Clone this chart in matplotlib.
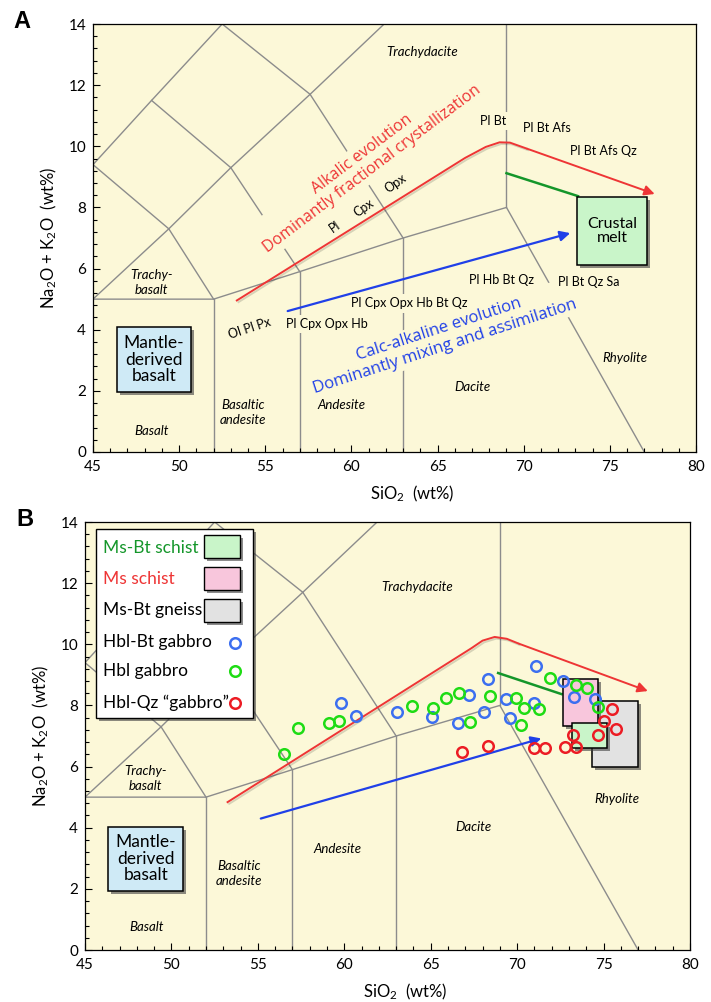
import matplotlib
matplotlib.use('Agg')
import matplotlib.pyplot as plt
import matplotlib.patheffects as pe
from matplotlib.patches import Rectangle

plt.rcParams['font.family'] = ['Lato', 'DejaVu Sans']
plt.rcParams['mathtext.fontset'] = 'custom'
plt.rcParams['mathtext.rm'] = 'Lato'
plt.rcParams['mathtext.it'] = 'Lato:italic'

bg = '#fcf8d8'
gray_line = '#8c8c8c'
red = '#ee3535'
blue = '#2040e8'
dkgreen = '#14962a'

# TAS field boundaries (SiO2, Na2O+K2O)
tas_lines = [
    [(45, 5), (52, 5), (57, 5.9), (63, 7), (69, 8), (77, 0)],
    [(52, 0), (52, 5)],
    [(57, 0), (57, 5.9)],
    [(63, 0), (63, 7)],
    [(69, 8), (69, 14)],
    [(45, 5), (49.4, 7.3), (53, 9.3), (57.6, 11.7), (61.9, 14)],
    [(49.4, 7.3), (52, 5)],
    [(53, 9.3), (57, 5.9)],
    [(57.6, 11.7), (63, 7)],
    [(45, 9.4), (49.4, 7.3)],
    [(45, 9.4), (48.4, 11.5), (52.5, 14)],
    [(48.4, 11.5), (53, 9.3)],
    [(52.5, 14), (57.6, 11.7)],
]

# rock names, panel A and panel B
rocks_a = [('Trachydacite', 64.1, 13.08), ('Trachy-\nbasalt', 48.4, 5.56), ('Basalt', 48.4, 0.69),
           ('Basaltic\nandesite', 53.7, 1.3), ('Andesite', 59.4, 1.55), ('Dacite', 67.05, 2.13),
           ('Rhyolite', 75.9, 3.07)]
rocks_b = [('Trachydacite', 64.2, 11.86), ('Trachy-\nbasalt', 48.5, 5.62), ('Basalt', 48.56, 0.76),
           ('Basaltic\nandesite', 53.9, 2.5), ('Andesite', 59.6, 3.3), ('Dacite', 67.45, 4.03),
           ('Rhyolite', 75.75, 4.93)]

# mineral assemblages along the trends (panel A)
minerals = ['Pl Bt', 'Pl Bt Afs', 'Pl Bt Afs Qz', 'Pl', 'Cpx', 'Opx', 'Ol Pl Px',
            'Pl Cpx Opx Hb', 'Pl Cpx Opx Hb Bt Qz', 'Pl Hb Bt Qz', 'Pl Bt Qz Sa']
minerals_x = [68.2, 71.35, 74.6, 59.05, 60.69, 62.53, 54.11, 58.56, 63.38, 68.72, 73.75]
minerals_y = [10.83, 10.6, 9.85, 7.37, 7.97, 8.79, 4.05, 4.19, 4.86, 5.63, 5.57]
minerals_rot = [0, 0, 0, 35, 35, 35, 18, 0, 0, 0, 0]

# trend lines
alk_a_x = [53.3, 66.6, 67.8, 68.6, 69.2, 70.2, 77.6]
alk_a_y = [4.94, 9.62, 9.98, 10.13, 10.12, 9.92, 8.44]
alk_b_x = [53.2, 67.35, 68.0, 68.7, 69.4, 70.1, 77.56]
alk_b_y = [4.82, 9.87, 10.12, 10.24, 10.18, 10.02, 8.47]
calc_a = [(56.3, 4.61), (72.7, 7.16)]
calc_b = [(55.17, 4.30), (71.4, 6.92)]
green_a = [(69.0, 9.12), (73.15, 8.37)]
green_b = [(68.9, 9.06), (72.57, 8.37)]

# boxes: (x0, x1, y0, y1)
mantle_a = (46.39, 50.69, 1.96, 4.09)
mantle_b = (46.35, 50.67, 1.94, 4.03)
crust_a = (73.09, 77.15, 6.12, 8.34)
gneiss_b = (74.31, 77.01, 5.99, 8.15)
ms_schist_b = (72.64, 74.69, 7.32, 8.88)
msbt_schist_b = (73.16, 75.22, 6.62, 7.41)

# samples (panel B)
hbl_bt_sio2 = [59.8, 60.7, 63.05, 65.06, 66.56, 67.23, 68.33, 68.08, 69.36, 69.59, 70.97, 71.09, 72.64, 73.29, 74.5]
hbl_bt_alk = [8.07, 7.66, 7.80, 7.63, 7.42, 8.34, 8.86, 7.80, 8.20, 7.60, 8.07, 9.29, 8.81, 8.27, 8.20]
hbl_sio2 = [56.51, 57.3, 59.12, 59.71, 63.93, 65.11, 65.9, 66.65, 67.25, 68.43, 69.93, 70.4, 71.28, 70.21,
            71.9, 73.4, 74.06, 74.69]
hbl_alk = [6.41, 7.25, 7.44, 7.49, 7.99, 7.93, 8.25, 8.40, 7.46, 8.31, 8.23, 7.91, 7.87, 7.36,
           8.89, 8.67, 8.56, 7.94]
hbl_qz_sio2 = [66.82, 68.33, 70.97, 71.61, 72.77, 73.4, 73.25, 74.69, 75.02, 75.47, 75.72]
hbl_qz_alk = [6.48, 6.67, 6.62, 6.60, 6.65, 6.65, 7.03, 7.03, 7.49, 7.87, 7.22]

c_blue = '#3c6ff0'
c_green = '#1edc14'
c_red = '#ec1c24'
f_green = '#c9f5c9'
f_pink = '#f8c6dc'
f_gray = '#e2e2e2'
f_blue = '#cfeaf6'

shadow = [pe.SimplePatchShadow(offset=(2.2, -2.2), shadow_rgbFace='0.25', alpha=0.6), pe.Normal()]


def frame(ax):
    ax.set_facecolor(bg)
    ax.set_xlim(45, 80)
    ax.set_ylim(0, 14)
    ax.set_xticks(range(45, 81, 5))
    ax.set_xticks(range(45, 81), minor=True)
    ax.set_yticks(range(0, 15, 2))
    ax.set_yticks([i * 0.4 for i in range(36)], minor=True)
    ax.tick_params(which='both', direction='in', top=False, right=False, width=0.8, labelsize=11)
    ax.tick_params(which='major', length=5)
    ax.tick_params(which='minor', length=2.8)
    ax.tick_params(axis='x', pad=6)
    ax.tick_params(axis='y', pad=5)
    for s in ax.spines.values():
        s.set_linewidth(0.9)
    ax.set_xlabel('SiO$_2$  (wt%)', fontsize=12, labelpad=4)
    ax.set_ylabel('Na$_2$O + K$_2$O  (wt%)', fontsize=12, labelpad=7)
    ax.xaxis.set_label_coords(0.53, -0.075)
    for line in tas_lines:
        ax.plot([p[0] for p in line], [p[1] for p in line], color=gray_line, lw=1.0, zorder=1)


def box(ax, b, fc, z=6, text=None, fs=12):
    r = Rectangle((b[0], b[2]), b[1] - b[0], b[3] - b[2], facecolor=fc, edgecolor='k', lw=1.1, zorder=z)
    r.set_path_effects(shadow)
    ax.add_patch(r)
    if text:
        ax.text((b[0] + b[1]) / 2, (b[2] + b[3]) / 2, text, ha='center', va='center', fontsize=fs,
                linespacing=1.05, zorder=z + 1)


def trends(ax, ax_x, ax_y, calc, grn):
    ax.plot(ax_x[:-1], ax_y[:-1], color=red, lw=1.4, zorder=5, solid_capstyle='butt',
            path_effects=[pe.SimpleLineShadow(offset=(1.2, -1.2), alpha=0.15), pe.Normal()])
    ax.annotate('', xy=(ax_x[-1], ax_y[-1]), xytext=(ax_x[-2], ax_y[-2]), zorder=5,
                arrowprops=dict(arrowstyle='-|>', color=red, lw=1.4, mutation_scale=15,
                                shrinkA=0, shrinkB=0))
    ax.annotate('', xy=calc[1], xytext=calc[0], zorder=5,
                arrowprops=dict(arrowstyle='-|>', color=blue, lw=1.6, mutation_scale=15,
                                shrinkA=0, shrinkB=0))
    ax.plot([p[0] for p in grn], [p[1] for p in grn], color=dkgreen, lw=1.8, zorder=5)


fig = plt.figure(figsize=(7.11, 10.02), dpi=100)
axA = fig.add_axes([93 / 711, 1 - 452 / 1002, 603 / 711, 428 / 1002])
axB = fig.add_axes([85 / 711, 1 - 950 / 1002, 605 / 711, 428 / 1002])

# ---------- panel A ----------
frame(axA)
for name, x, y in rocks_a:
    axA.text(x, y, name, style='italic', fontsize=9.5, ha='center', va='center', linespacing=1.3, zorder=2)
for t, x, y, r in zip(minerals, minerals_x, minerals_y, minerals_rot):
    axA.text(x, y, t, fontsize=9, rotation=r, ha='center', va='center', zorder=4,
             bbox=dict(boxstyle='square,pad=0.25', fc=bg, ec='none'))
axA.text(60.9, 9.5, 'Alkalic evolution\nDominantly fractional crystallization', color=red,
         family=['Open Sans', 'DejaVu Sans'], fontsize=11.5, rotation=37, ha='center', va='center',
         linespacing=1.15, zorder=3, bbox=dict(boxstyle='square,pad=0.2', fc=bg, ec='none'))
axA.text(65.25, 3.73, 'Calc-alkaline evolution\nDominantly mixing and assimilation', color=blue,
         family=['Open Sans', 'DejaVu Sans'], fontsize=12, rotation=18, ha='center', va='center',
         linespacing=1.15, zorder=3, bbox=dict(boxstyle='square,pad=0.15', fc=bg, ec='none'))
trends(axA, alk_a_x, alk_a_y, calc_a, green_a)
box(axA, crust_a, f_green, text='Crustal\nmelt', fs=11.5)
box(axA, mantle_a, f_blue, text='Mantle-\nderived\nbasalt', fs=12.5)

# ---------- panel B ----------
frame(axB)
for name, x, y in rocks_b:
    axB.text(x, y, name, style='italic', fontsize=9.5, ha='center', va='center', linespacing=1.3, zorder=2)
trends(axB, alk_b_x, alk_b_y, calc_b, green_b)
box(axB, mantle_b, f_blue, text='Mantle-\nderived\nbasalt', fs=12.5)
box(axB, gneiss_b, f_gray, z=6)
box(axB, ms_schist_b, f_pink, z=7)
box(axB, msbt_schist_b, f_green, z=8)

mk = dict(ls='none', marker='o', ms=7.6, mfc='none', mew=1.8, zorder=10)
axB.plot(hbl_bt_sio2, hbl_bt_alk, mec=c_blue, **mk)
axB.plot(hbl_sio2, hbl_alk, mec=c_green, **mk)
axB.plot(hbl_qz_sio2, hbl_qz_alk, mec=c_red, **mk)

# legend drawn by hand (text left, swatch/marker right)
T = axB.transAxes
leg = Rectangle((0.0177, 0.5414), 0.26, 0.4422, transform=T, fc='white', ec='k', lw=1.0, zorder=20)
leg.set_path_effects(shadow)
axB.add_patch(leg)
rows_y = [0.9385, 0.8668, 0.7944, 0.7203, 0.6519, 0.5764]
labels = ['Ms-Bt schist', 'Ms schist', 'Ms-Bt gneiss', 'Hbl-Bt gabbro', 'Hbl gabbro', 'Hbl-Qz \u201cgabbro\u201d']
lab_colors = [dkgreen, red, 'k', 'k', 'k', 'k']
for lab, y, c in zip(labels, rows_y, lab_colors):
    axB.text(0.0298, y, lab, transform=T, fontsize=12.5, color=c, ha='left', va='center', zorder=21)
for fc, y in zip([f_green, f_pink, f_gray], [0.9432, 0.8685, 0.7937]):
    r = Rectangle((0.1967, y - 0.0268), 0.0595, 0.0537, transform=T, fc=fc, ec='k', lw=1.0, zorder=21)
    r.set_path_effects(shadow)
    axB.add_patch(r)
for c, y in zip([c_blue, c_green, c_red], [0.7166, 0.6526, 0.5764]):
    axB.plot([0.2479], [y], transform=T, mec=c, clip_on=False, **dict(mk, zorder=22))

fig.text(22 / 711, 1 - 22 / 1002, 'A', fontsize=17, weight='bold', family='Liberation Sans',
         ha='center', va='center')
fig.text(25 / 711, 1 - 519 / 1002, 'B', fontsize=17, weight='bold', family='Liberation Sans',
         ha='center', va='center')

fig.savefig('out.png', dpi=100, facecolor='white')
